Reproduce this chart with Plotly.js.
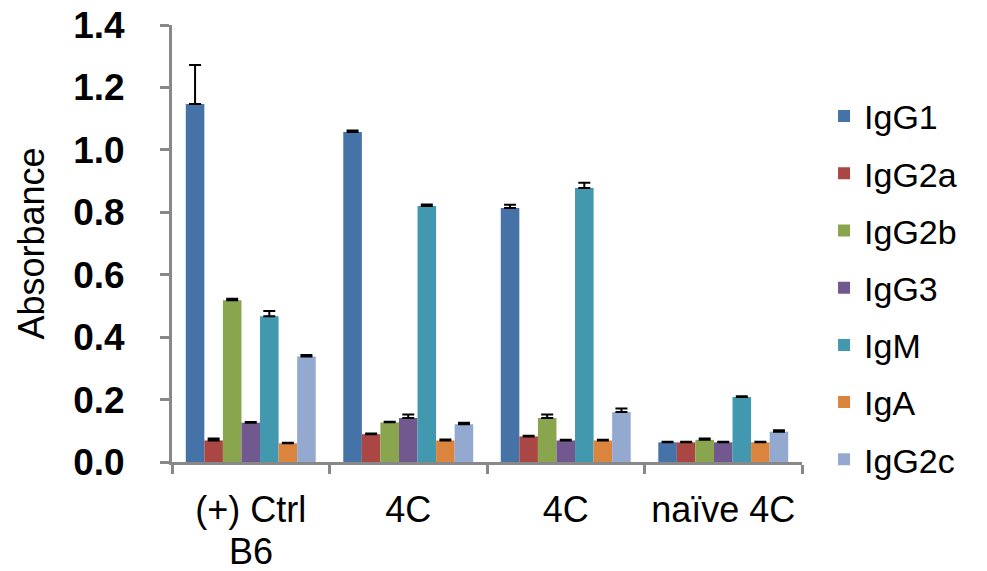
<!DOCTYPE html>
<html>
<head>
<meta charset="utf-8">
<script src="https://cdn.plot.ly/plotly-3.0.1.min.js"></script>
<style>html,body{margin:0;padding:0;background:#fff;}#chart{width:987px;height:571px;}</style>
</head>
<body>
<div id="chart"></div>
<script>
const categories = ["(+) Ctrl\nB6", "4C", "4C", "naïve 4C"];
const seriesNames = ["IgG1", "IgG2a", "IgG2b", "IgG3", "IgM", "IgA", "IgG2c"];
const colors = ["#4572A7", "#AA4643", "#89A54E", "#71588F", "#4198AF", "#DB843D", "#93A9CF"];

const IgG1  = [1.147, 1.057, 0.814, 0.063];
const IgG2a = [0.069, 0.089, 0.082, 0.063];
const IgG2b = [0.518, 0.127, 0.141, 0.071];
const IgG3  = [0.126, 0.141, 0.069, 0.063];
const IgM   = [0.467, 0.820, 0.878, 0.208];
const IgA   = [0.060, 0.069, 0.069, 0.063];
const IgG2c = [0.338, 0.121, 0.160, 0.097];

const errIgG1  = [0.125, 0.005, 0.010, 0.002];
const errIgG2a = [0.006, 0.002, 0.002, 0.002];
const errIgG2b = [0.005, 0.002, 0.011, 0.004];
const errIgG3  = [0.002, 0.011, 0.002, 0.002];
const errIgM   = [0.017, 0.005, 0.017, 0.003];
const errIgA   = [0.002, 0.003, 0.002, 0.002];
const errIgG2c = [0.005, 0.005, 0.011, 0.005];

const values = [IgG1, IgG2a, IgG2b, IgG3, IgM, IgA, IgG2c];
const errors = [errIgG1, errIgG2a, errIgG2b, errIgG3, errIgM, errIgA, errIgG2c];
const xIdx = categories.map((c, i) => i);
const firstLines = categories.map(c => c.split("\n")[0]);
const secondLines = categories.map(c => c.split("\n")[1] || "");

const traces = seriesNames.map((name, k) => ({
  type: "bar",
  name: name,
  legendgroup: name,
  x: xIdx,
  y: values[k],
  marker: {color: colors[k], line: {width: 0}},
  error_y: {type: "data", symmetric: false, array: errors[k], arrayminus: errors[k].map(() => 0),
            color: "#000", thickness: 2, width: 6}
}));

const axisGrey = "#888888";
const annotations = secondLines.map((t, i) => ({
  text: t, x: xIdx[i], xref: "x", y: -0.205, yref: "paper",
  xanchor: "center", yanchor: "middle", showarrow: false,
  font: {size: 36, color: "#000"}
})).filter(a => a.text);

const layout = {
  width: 987, height: 571,
  margin: {l: 172, r: 185, t: 25, b: 109},
  paper_bgcolor: "#fff", plot_bgcolor: "#fff",
  barmode: "group", bargap: 0.175, bargroupgap: 0,
  font: {family: "Liberation Sans, Arial, sans-serif", color: "#000"},
  xaxis: {
    range: [-0.5, 3.5], tickmode: "array", tickvals: xIdx, ticktext: firstLines,
    ticks: "", showgrid: false, zeroline: false,
    showline: true, linecolor: axisGrey, linewidth: 3,
    tickfont: {size: 36, color: "#000"}, ticklabelstandoff: 14,
    minor: {tickmode: "linear", tick0: -0.5, dtick: 1, ticks: "outside", ticklen: 9, tickwidth: 3, tickcolor: axisGrey, showgrid: false}
  },
  yaxis: {
    range: [0, 1.4], dtick: 0.2, tickformat: ".1f",
    ticks: "outside", ticklen: 9, tickwidth: 3, tickcolor: axisGrey,
    showgrid: false, zeroline: false, showline: true, linecolor: axisGrey, linewidth: 3,
    tickfont: {size: 37, weight: "bold", color: "#000"}, ticklabelstandoff: 28,
    title: {text: "Absorbance", font: {size: 36, color: "#000"}, standoff: 18}
  },
  annotations: annotations,
  legend: {
    x: 1.035, xanchor: "left", y: 0.857, yanchor: "top",
    font: {size: 34, color: "#000"}, tracegroupgap: 10, bgcolor: "rgba(0,0,0,0)"
  },
  showlegend: true
};

Plotly.newPlot("chart", traces, layout, {displayModeBar: false, staticPlot: true});
</script>
</body>
</html>
